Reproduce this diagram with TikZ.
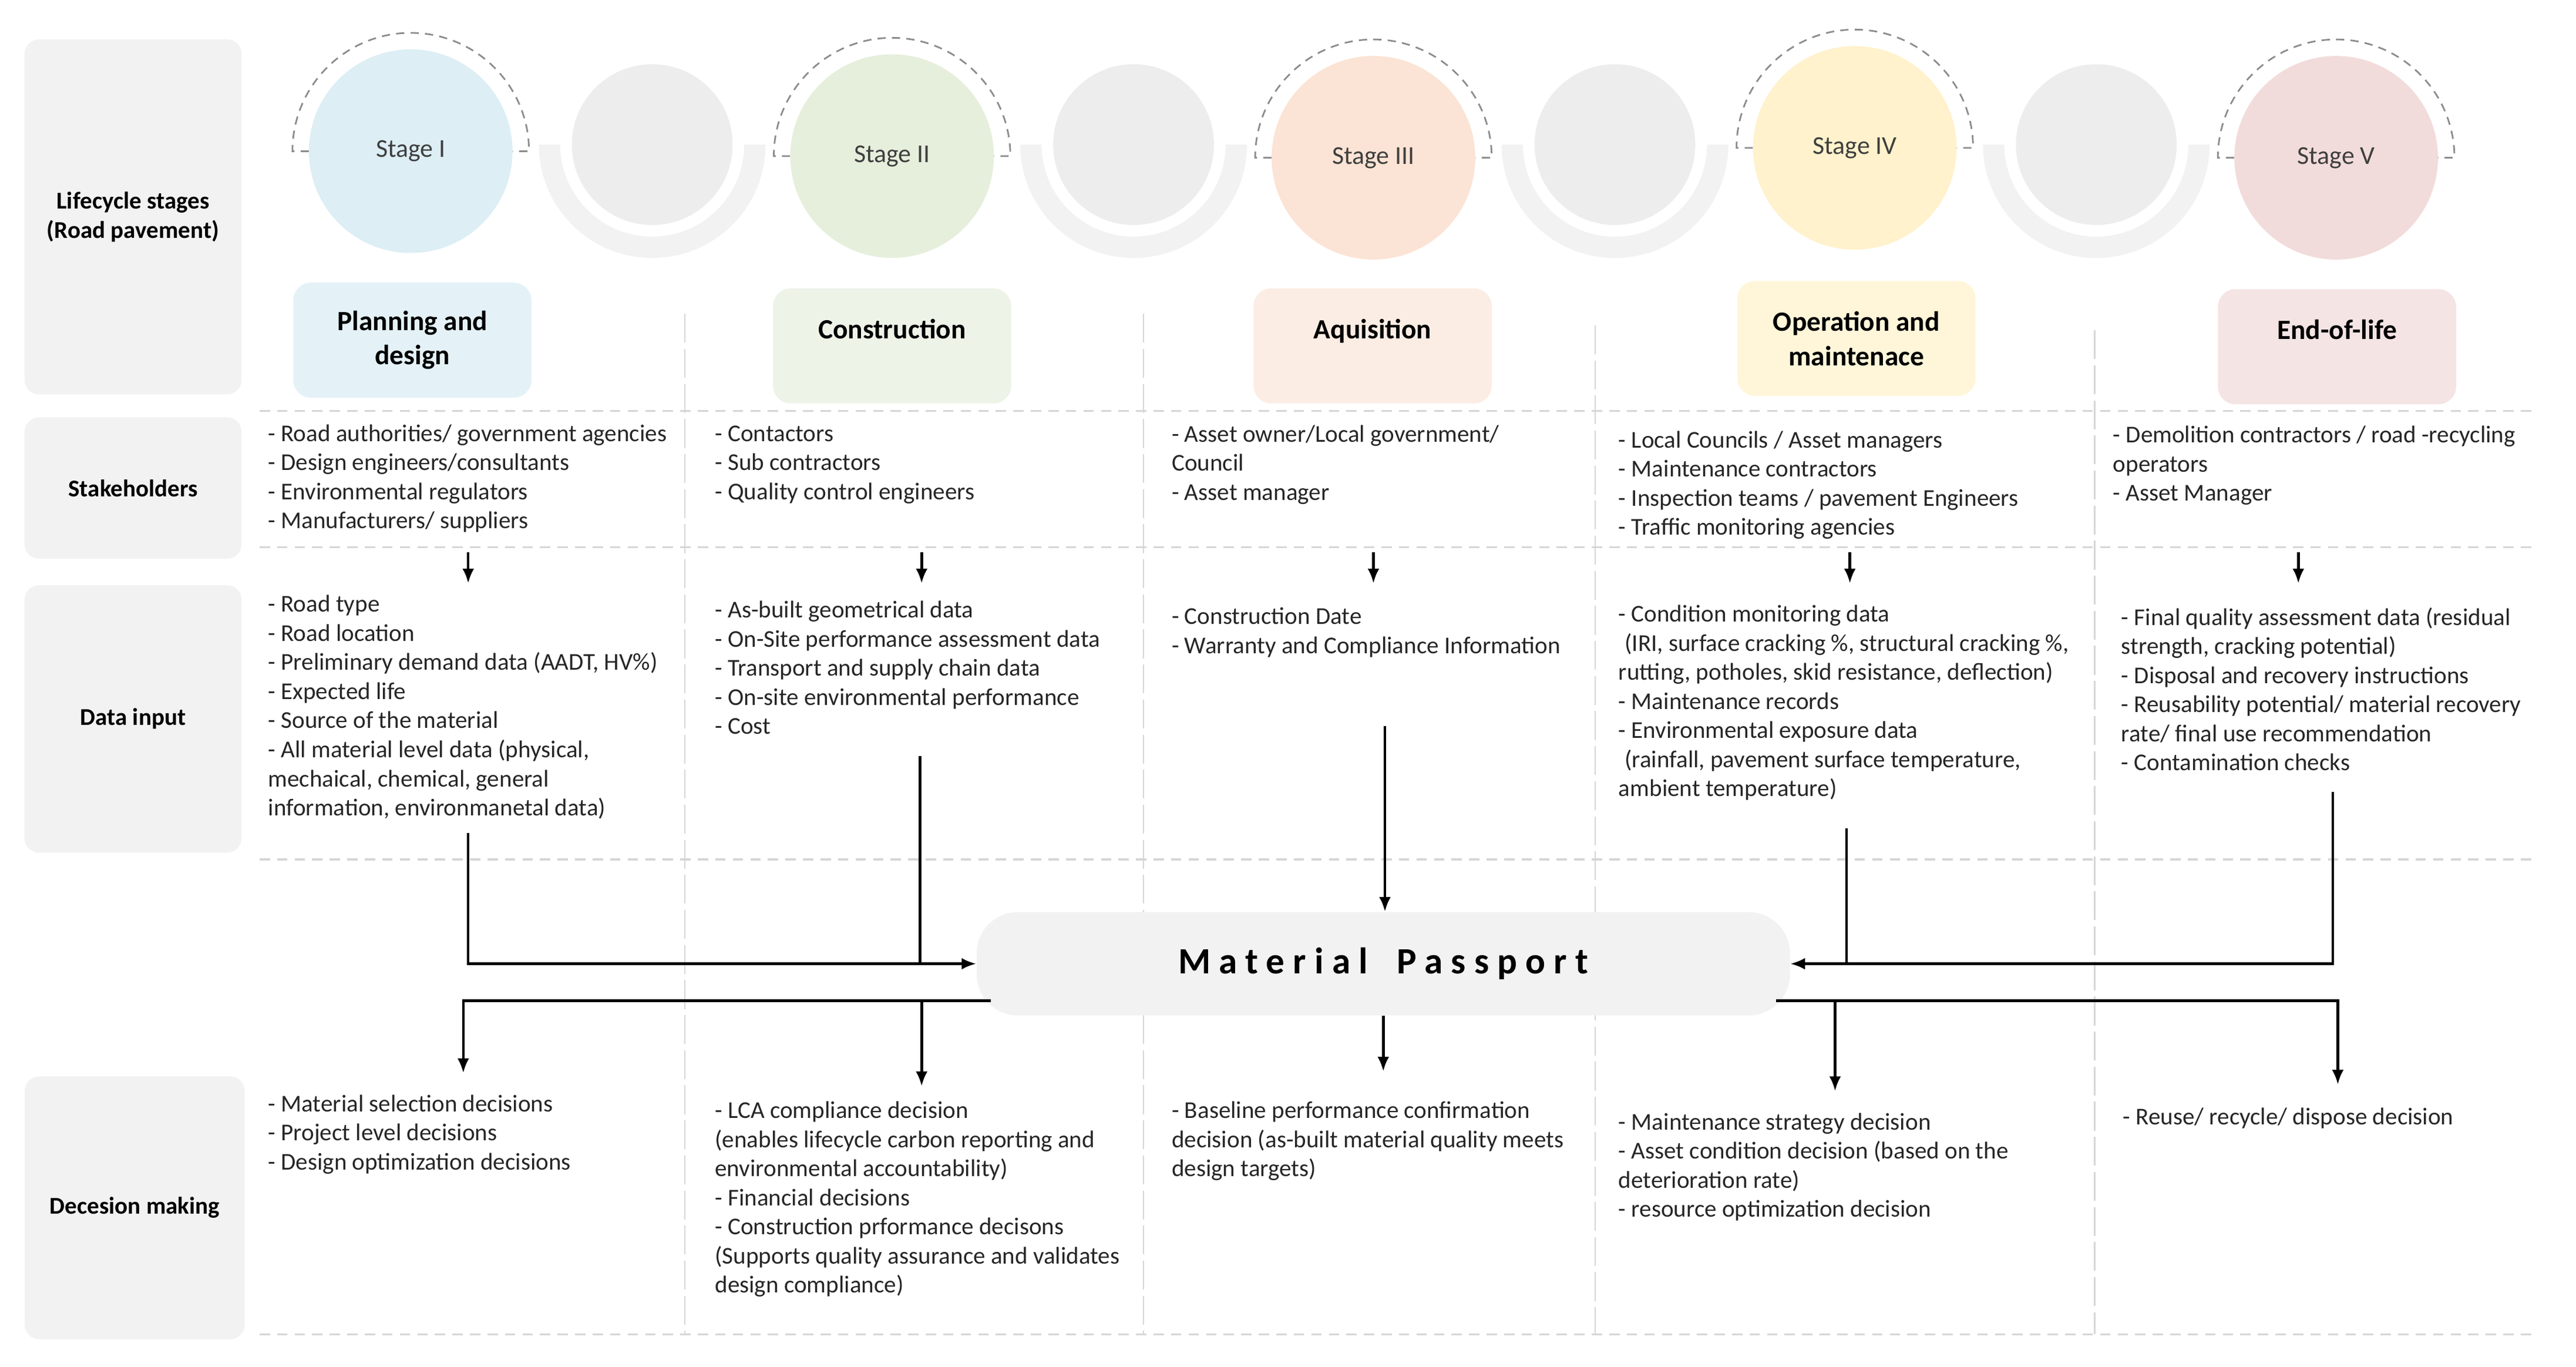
\documentclass[tikz,border=0pt]{standalone}
\usepackage{fontspec}
\setmainfont{Carlito}
\usetikzlibrary{arrows.meta,positioning}

\definecolor{boxgray}{HTML}{F2F2F2}
\definecolor{cgray}{HTML}{EDEDED}
\definecolor{ugray}{HTML}{F2F2F2}
\definecolor{sepgray}{HTML}{D6D6D6}
\definecolor{arcgray}{HTML}{8C8C8C}
\definecolor{txtdark}{HTML}{262626}
\definecolor{stagetxt}{HTML}{3F3F3F}
\definecolor{stIc}{HTML}{DDEEF5}
\definecolor{stIb}{HTML}{E4F2F7}
\definecolor{stIIc}{HTML}{E6EFDC}
\definecolor{stIIb}{HTML}{EEF3E8}
\definecolor{stIIIc}{HTML}{FBE4D5}
\definecolor{stIIIb}{HTML}{FCEDE4}
\definecolor{stIVc}{HTML}{FFF2CC}
\definecolor{stIVb}{HTML}{FFF6DA}
\definecolor{stVc}{HTML}{F2DCDB}
\definecolor{stVb}{HTML}{F5E4E4}

\newcommand{\itemlines}[1]{\begin{tabular}[t]{@{}l@{}}#1\end{tabular}}

\begin{document}
\begin{tikzpicture}[x=0.28mm,y=-0.28mm,
  every node/.style={inner sep=0pt},
  sidebox/.style={fill=boxgray,rounded corners=2.5mm,minimum width=37mm,align=center,font=\fontsize{11.7}{14.1}\selectfont\bfseries},
  stagecirc/.style={circle,minimum size=34.7mm,font=\fontsize{12.5}{15}\selectfont,text=stagetxt},
  stagebox/.style={rounded corners=3mm,minimum width=40.6mm,minimum height=19.6mm,align=center,font=\fontsize{13.5}{16.7}\selectfont\bfseries},
  items/.style={anchor=base west,font=\fontsize{11.7}{14.1}\selectfont,text=txtdark},
  hsep/.style={draw=sepgray,line width=0.9pt,dash pattern=on 5pt off 3.5pt},
  vsep/.style={draw=sepgray,line width=0.6pt,dash pattern=on 14pt off 3pt},
  arcdash/.style={draw=arcgray,line width=0.8pt,dash pattern=on 4pt off 3pt},
  link/.style={line width=1.3pt},
  conn/.style={link,-{Latex[length=2.5mm,width=2mm]}}
]
\useasboundingbox (0,0) rectangle (1568,831.6);

\foreach \y in {250,333,523,812} \draw[hsep] (158,\y) -- (1545,\y);
\foreach \x/\t in {417/191,696/191,971/198,1275/201} \draw[vsep] (\x,\t) -- (\x,812);

\node[sidebox,minimum height=60.5mm] (lcs) at (81,132) {Lifecycle stages\\(Road pavement)};
\node[sidebox,minimum height=24.1mm] (stk) at (81,297) {Stakeholders};
\node[sidebox,minimum height=45.6mm] (din) at (81,437.5) {Data input};
\node[sidebox,minimum height=44.8mm,minimum width=37.5mm] (dec) at (82,735) {Decesion making};

\foreach \x [count=\i] in {397,690,983,1276} {
  \fill[ugray] (\x+69,88) arc[start angle=0,end angle=180,radius=69] -- (\x-56,88) arc[start angle=180,end angle=0,radius=56] -- cycle;
  \node[circle,fill=cgray,minimum size=27.4mm] (g\i) at (\x,88) {};
}

\foreach \x/\y/\c/\t [count=\i] in {250/92/stIc/I,543/95/stIIc/II,836/96/stIIIc/III,1129/90/stIVc/IV,1422/96/stVc/V} {
  \draw[arcdash] (\x-62,\y) -- (\x-72,\y) arc[start angle=180,end angle=360,radius=72] -- (\x+62,\y);
  \node[stagecirc,fill=\c] (st\i) at (\x,\y) {Stage \t};
}

\node[stagebox,fill=stIb] (pd) at (251,207) {Planning and\\design};
\node[stagebox,fill=stIIb] (con) at (543,210.5) {Construction\\\mbox{}};
\node[stagebox,fill=stIIIb] (acq) at (835.5,210.5) {Aquisition\\\mbox{}};
\node[stagebox,fill=stIVb] (om) at (1130,206) {Operation and\\maintenace};
\node[stagebox,fill=stVb] (eol) at (1422.5,211) {End-of-life\\\mbox{}};

% stakeholders
\node[items] (s1) at (163,268.5) {\itemlines{- Road authorities/ government agencies\\- Design engineers/consultants\\- Environmental regulators\\- Manufacturers/ suppliers}};
\node[items] (s2) at (435,268.5) {\itemlines{- Contactors\\- Sub contractors\\- Quality control engineers}};
\node[items] (s3) at (713,269) {\itemlines{- Asset owner/Local government/\\Council\\- Asset manager}};
\node[items] (s4) at (985,272.5) {\itemlines{- Local Councils / Asset managers\\- Maintenance contractors\\- Inspection teams / pavement Engineers\\- Traffic monitoring agencies}};
\node[items] (s5) at (1286,269.5) {\itemlines{- Demolition contractors / road -recycling\\operators\\- Asset Manager}};

% data input
\node[items] (d1) at (163,372.5) {\itemlines{- Road type\\- Road location\\- Preliminary demand data (AADT, HV\%)\\- Expected life\\- Source of the material\\- All material level data (physical,\\mechaical, chemical, general\\information, environmanetal data)}};
\node[items] (d2) at (435,376) {\itemlines{- As-built geometrical data\\- On-Site performance assessment data\\- Transport and supply chain data\\- On-site environmental performance\\- Cost}};
\node[items] (d3) at (713,380) {\itemlines{- Construction Date\\- Warranty and Compliance Information}};
\node[items] (d4) at (985,378.5) {\itemlines{- Condition monitoring data\\\hspace*{0.25em}(IRI, surface cracking \%, structural cracking \%,\\rutting, potholes, skid resistance, deflection)\\- Maintenance records\\- Environmental exposure data\\\hspace*{0.25em}(rainfall, pavement surface temperature,\\ambient temperature)}};
\node[items] (d5) at (1291,380.5) {\itemlines{- Final quality assessment data (residual\\strength, cracking potential)\\- Disposal and recovery instructions\\- Reusability potential/ material recovery\\rate/ final use recommendation\\- Contamination checks}};

% decisions
\node[items] (e1) at (163,676.5) {\itemlines{- Material selection decisions\\- Project level decisions\\- Design optimization decisions}};
\node[items] (e2) at (435,680.5) {\itemlines{- LCA compliance decision\\(enables lifecycle carbon reporting and\\environmental accountability)\\- Financial decisions\\- Construction prformance decisons\\(Supports quality assurance and validates\\design compliance)}};
\node[items] (e3) at (713,680.5) {\itemlines{- Baseline performance confirmation\\decision (as-built material quality meets\\design targets)}};
\node[items] (e4) at (985,687.5) {\itemlines{- Maintenance strategy decision\\- Asset condition decision (based on the\\deterioration rate)\\- resource optimization decision}};
\node[items] (e5) at (1292,684.5) {\itemlines{- Reuse/ recycle/ dispose decision}};

\node[fill=boxgray,rounded corners=7mm,minimum width=138.6mm,minimum height=17.6mm,
  font=\fontsize{18}{21}\selectfont\bfseries\addfontfeatures{LetterSpace=22.5}] (mp) at (842,586.5) {Material\hspace{6pt} Passport};

\foreach \x [count=\i] in {285,561,836,1126,1399} {
  \coordinate (sa\i) at (\x,336);
  \coordinate (sb\i) at (\x,355);
  \draw[conn] (sa\i) -- (sb\i);
}

\coordinate (d1o) at (285,507);
\coordinate (d2o) at (560,460);
\coordinate (d3o) at (843,442);
\coordinate (d4o) at (1124,504);
\coordinate (d5o) at (1420,482);
\draw[conn] (d1o) |- (mp.west);
\draw[link] (d2o) -- (d2o |- mp.west);
\draw[conn] (d3o) -- (d3o |- mp.north);
\draw[conn] (d5o) |- (mp.east);
\draw[link] (d4o) -- (d4o |- mp.east);

\coordinate (mpl) at (603,609);
\coordinate (mpr) at (1081,609);
\coordinate (e1i) at (282,653);
\coordinate (e2i) at (561,661);
\coordinate (e3i) at (842,652);
\coordinate (e4i) at (1117,664);
\coordinate (e5i) at (1423,660);
\draw[conn] (mpl) -| (e1i);
\draw[conn] (e2i |- mpl) -- (e2i);
\draw[conn] (e3i |- mp.south) -- (e3i);
\draw[conn] (mpr) -| (e5i);
\draw[conn] (e4i |- mpr) -- (e4i);

\end{tikzpicture}
\end{document}
